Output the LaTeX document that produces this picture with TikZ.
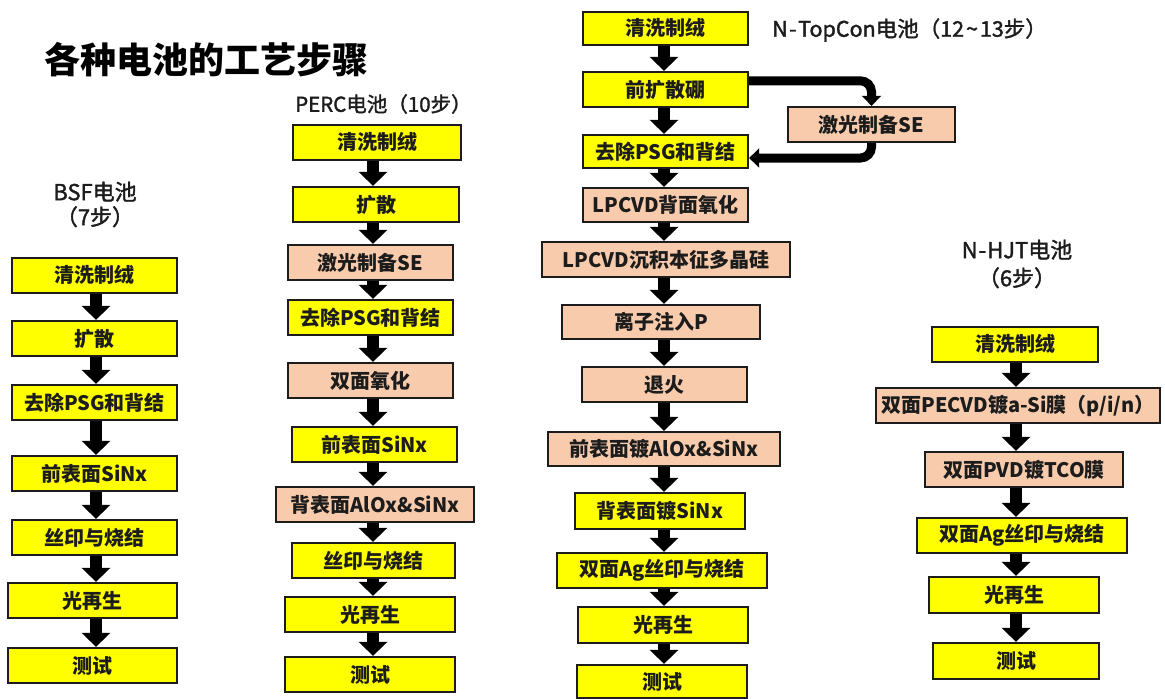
\documentclass[tikz,border=0pt]{standalone}
\usepackage{fontspec}
\setmainfont{Noto Sans CJK SC}
\newfontfamily\labfont{Noto Sans CJK SC}[FakeBold=1.6]
\newfontfamily\headfont{Noto Sans CJK SC Bold}[FakeBold=1.5]
\usetikzlibrary{arrows.meta}
\definecolor{yel}{RGB}{255,255,0}
\definecolor{peach}{RGB}{248,203,173}
\definecolor{ink}{RGB}{28,28,28}
\begin{document}
\begin{tikzpicture}[x=1pt,y=-1pt,
  box/.style={draw=ink, line width=2.3pt, inner sep=0pt, font=\fontsize{20}{21}\selectfont\bfseries, text=ink},
  yb/.style={box, fill=yel},
  pb/.style={box, fill=peach},
  sz/.style n args={2}{minimum width=#1pt, minimum height=#2pt},
  varr/.style={draw=black, line width=12pt, -{Triangle[width=28pt,length=14pt]}},
  barr/.style={draw=black, line width=9pt, rounded corners=11pt, -{Triangle[width=19pt,length=10pt]}},
  lbl/.style={text=ink, align=center, inner sep=0pt}
]
\useasboundingbox[fill=white] (0,0) rectangle (1165,699);

% titles
\node[inner sep=0pt, anchor=west, font=\fontsize{36}{40}\selectfont\bfseries, text=black] (title) at (44,60) {各种电池的工艺步骤};
\node[lbl, anchor=west, font=\labfont\fontsize{20.5}{25}\selectfont] (perclbl) at (295,104) {PERC电池（10步）};
\node[lbl, anchor=west, font=\labfont\fontsize{21.5}{25}\selectfont] (toplbl) at (772,30) {N\kern1.5pt-\kern1.5pt TopCon电池（12\kern2pt\textasciitilde\kern2pt 13步）};
\node[lbl, font=\labfont\fontsize{22}{25}\selectfont] (bsflbl) at (95,204.5) {BSF电池\\（7步）};
\node[lbl, font=\labfont\fontsize{22}{28}\selectfont] (hjtlbl) at (1017,264) {N\kern1pt-\kern1pt HJT电池\\（6步）};

% BSF
\node[yb, sz={165}{35}] (b1) at (94.5,275.5) {清洗制绒};
\node[yb, sz={165}{35}] (b2) at (94.5,338.5) {扩散};
\node[yb, sz={165}{35}] (b3) at (94.5,402.5) {去除PSG和背结};
\node[yb, sz={165}{35}] (b4) at (94.5,473.5) {前表面SiNx};
\node[yb, sz={165}{35}] (b5) at (94.5,537.5) {丝印与烧结};
\node[yb, sz={169}{35}] (b6) at (92.5,600.5) {光再生};
\node[yb, sz={169}{35}] (b7) at (92.5,665.5) {测试};
\coordinate (bx) at (96,0);
\foreach \a/\b in {b1/b2,b2/b3,b3/b4,b4/b5,b5/b6,b6/b7}
  \draw[varr] (\a.south -| bx) -- (\b.north -| bx);

% PERC
\node[yb, sz={168}{35}] (p1) at (377,142.5) {清洗制绒};
\node[yb, sz={166}{35}] (p2) at (376,204.5) {扩散};
\node[pb, sz={165}{35}] (p3) at (370.5,262.5) {激光制备SE};
\node[yb, sz={165}{35}] (p4) at (370.5,317.5) {去除PSG和背结};
\node[pb, sz={165}{35}] (p5) at (370.5,380.5) {双面氧化};
\node[yb, sz={165}{35}] (p6) at (374.5,444.5) {前表面SiNx};
\node[pb, sz={198}{35}] (p7) at (375,504.5) {背表面AlOx\&SiNx};
\node[yb, sz={163}{35}] (p8) at (373.5,560.5) {丝印与烧结};
\node[yb, sz={170}{35}] (p9) at (370,614.5) {光再生};
\node[yb, sz={170}{35}] (p10) at (370,674.5) {测试};
\coordinate (px) at (373,0);
\foreach \a/\b in {p1/p2,p2/p3,p3/p4,p4/p5,p5/p6,p6/p7,p7/p8,p8/p9,p9/p10}
  \draw[varr] (\a.south -| px) -- (\b.north -| px);

% N-TopCon
\node[yb, sz={165}{33}] (t1) at (665.5,28.5) {清洗制绒};
\node[yb, sz={165}{35}] (t2) at (665.5,89.5) {前扩散硼};
\node[pb, sz={167}{35}] (t3) at (871.5,124.5) {激光制备SE};
\node[yb, sz={165}{33}] (t4) at (665.5,151.5) {去除PSG和背结};
\node[pb, sz={165}{34}] (t5) at (665.5,205) {LPCVD背面氧化};
\node[pb, sz={248}{35}] (t6) at (666,259.5) {LPCVD沉积本征多晶硅};
\node[pb, sz={198}{34}] (t7) at (661,322) {离子注入P};
\node[pb, sz={165}{35}] (t8) at (664.5,384.5) {退火};
\node[pb, sz={232}{34}] (t9) at (664,449) {前表面镀AlOx\&SiNx};
\node[yb, sz={170}{36}] (t10) at (660,511) {背表面镀SiNx};
\node[yb, sz={210}{35}] (t11) at (662,570.5) {双面Ag丝印与烧结};
\node[yb, sz={170}{36}] (t12) at (663,625) {光再生};
\node[yb, sz={170}{33}] (t13) at (662,681.5) {测试};
\coordinate (tx) at (664,0);
\foreach \a/\b in {t1/t2,t2/t4,t4/t5,t5/t6,t6/t7,t7/t8,t8/t9,t9/t10,t10/t11,t11/t12,t12/t13}
  \draw[varr] (\a.south -| tx) -- (\b.north -| tx);
\draw[barr] ([yshift=-10pt]t2.north east) -| (t3.north);
\draw[barr] (t3.south) |- ([yshift=-6.5pt]t4.east);

% N-HJT
\node[yb, sz={166}{35}] (h1) at (1015,344.5) {清洗制绒};
\node[pb, sz={284}{35}] (h2) at (1018,405.5) {双面PECVD镀a-Si膜（p/i/n）};
\node[pb, sz={198}{35}] (h3) at (1024,469.5) {双面PVD镀TCO膜};
\node[yb, sz={210}{35}] (h4) at (1022,535.5) {双面Ag丝印与烧结};
\node[yb, sz={170}{36}] (h5) at (1014,595) {光再生};
\node[yb, sz={166}{36}] (h6) at (1016,661) {测试};
\coordinate (hx) at (1016,0);
\foreach \a/\b in {h1/h2,h2/h3,h3/h4,h4/h5,h5/h6}
  \draw[varr] (\a.south -| hx) -- (\b.north -| hx);
\end{tikzpicture}
\end{document}
